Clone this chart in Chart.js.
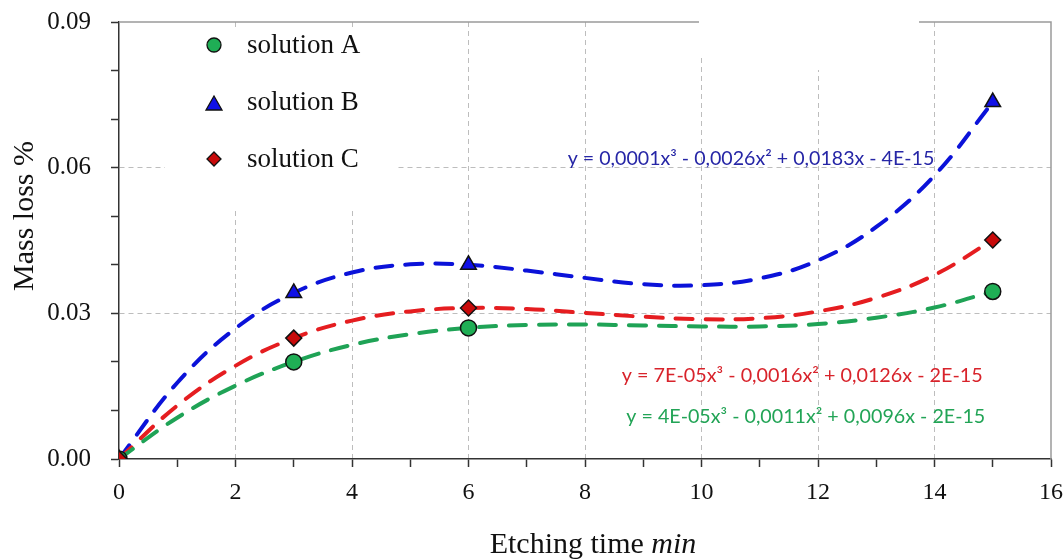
<!DOCTYPE html>
<html><head><meta charset="utf-8">
<script src="https://cdn.jsdelivr.net/npm/chart.js@4"></script>
<style>html,body{margin:0;padding:0;background:#fff;overflow:hidden}#w{width:1064px;height:559px}</style>
</head><body><div id="w"><canvas id="c" width="1064" height="559"></canvas></div>
<script>
// ---- data ----
const measuredTimes = [0, 3, 6, 15];
const solutionA = [0, 0.0200, 0.0270, 0.0345];
const solutionB = [0, 0.0342, 0.0400, 0.0735];
const solutionC = [0, 0.0249, 0.0311, 0.0451];

// dashed trend lines as seen on the picture
const trendTimes = [0, 1, 2, 3, 4, 5, 6, 7, 8, 9, 10, 11, 12, 13, 14, 15];
const trendA = [0, 0.0085, 0.0151, 0.0200, 0.0235, 0.0257, 0.0270, 0.0276, 0.0277, 0.0275, 0.0273, 0.0273, 0.0278, 0.0291, 0.0312, 0.0345];
const trendB = [0, 0.0157, 0.0269, 0.0342, 0.0384, 0.0401, 0.0400, 0.0388, 0.0373, 0.0360, 0.0358, 0.0372, 0.0409, 0.0478, 0.0584, 0.0735];
const trendC = [0, 0.0110, 0.0192, 0.0249, 0.0285, 0.0304, 0.0311, 0.0309, 0.0301, 0.0293, 0.0288, 0.0290, 0.0304, 0.0332, 0.0379, 0.0451];

const xTickLabels = [0, 2, 4, 6, 8, 10, 12, 14, 16];
const yTickLabels = [0.00, 0.03, 0.06, 0.09];
const seriesNames = ['solution A', 'solution B', 'solution C'];
const equationB = 'y = 0,0001x³ - 0,0026x² + 0,0183x - 4E-15';
const equationC = 'y = 7E-05x³ - 0,0016x² + 0,0126x - 2E-15';
const equationA = 'y = 4E-05x³ - 0,0011x² + 0,0096x - 2E-15';
const xTitle = 'Etching time ';
const xTitleUnit = 'min';
const yTitle = 'Mass loss %';

// ---- styles ----
const COL = {
  lineA: '#1fa356', lineB: '#0b12d9', lineC: '#e51d20',
  ptA: '#1fae55', ptB: '#1010e6', ptC: '#c80a0a',
  eqA: '#22a456', eqB: '#2626a6', eqC: '#d8232b'
};
const SERIF = '"Liberation Serif", "Times New Roman", serif';

const pts = (xs, ys) => xs.map((x, i) => ({x, y: ys[i]}));

const lineDs = (label, xs, ys, color, order) => ({
  type: 'scatter', label, data: pts(xs, ys), showLine: true, tension: 0.4,
  borderColor: color, borderWidth: 4, borderDash: [17, 13], borderCapStyle: 'round',
  pointRadius: 0, fill: false, order
});
const pointDs = (label, ys, style, fill, r, order) => ({
  type: 'scatter', label, data: pts(measuredTimes, ys), showLine: false,
  pointStyle: style, pointRadius: r, backgroundColor: fill, borderColor: '#111',
  pointBorderWidth: 1.5, order
});

const near = (v, list) => list.some(t => Math.abs(t - v) < 1e-9);

const decor = {
  id: 'decor',
  beforeDatasetsDraw(chart) {
    const {ctx, chartArea: a} = chart;
    ctx.save();
    // frame (top and right)
    ctx.strokeStyle = '#9a9a9a'; ctx.lineWidth = 1.5;
    ctx.beginPath();
    ctx.moveTo(a.left, a.top); ctx.lineTo(a.right, a.top); ctx.lineTo(a.right, a.bottom);
    ctx.stroke();
    // white boxes of the legend and labels that hide grid lines
    ctx.fillStyle = '#fff';
    ctx.fillRect(a.left + 46, a.top + 8, 233, 181);
    ctx.fillRect(a.left + 580, a.top - 12, 220, 47);
    ctx.fillRect(a.left + 640, a.top + 35, 160, 13);
    ctx.restore();
  },
  afterDraw(chart) {
    const {ctx, chartArea: a, scales: {x, y}} = chart;
    ctx.save();
    // legend
    const items = [
      {name: seriesNames[0], draw: (cx, cy) => { ctx.beginPath(); ctx.arc(cx, cy, 7, 0, Math.PI * 2); ctx.fillStyle = COL.ptA; ctx.fill(); ctx.stroke(); }},
      {name: seriesNames[1], draw: (cx, cy) => { ctx.beginPath(); ctx.moveTo(cx, cy - 8); ctx.lineTo(cx + 8, cy + 6); ctx.lineTo(cx - 8, cy + 6); ctx.closePath(); ctx.fillStyle = COL.ptB; ctx.fill(); ctx.stroke(); }},
      {name: seriesNames[2], draw: (cx, cy) => { ctx.beginPath(); ctx.moveTo(cx, cy - 7); ctx.lineTo(cx + 7, cy); ctx.lineTo(cx, cy + 7); ctx.lineTo(cx - 7, cy); ctx.closePath(); ctx.fillStyle = COL.ptC; ctx.fill(); ctx.stroke(); }}
    ];
    ctx.strokeStyle = '#111'; ctx.lineWidth = 1.3;
    const baseY = [a.top + 31, a.top + 88, a.top + 145];
    items.forEach((it, i) => {
      it.draw(a.left + 95, baseY[i] - 8 + (i === 1 ? 2 : 0));
      ctx.fillStyle = '#111';
      ctx.font = '27px ' + SERIF;
      ctx.textAlign = 'left'; ctx.textBaseline = 'alphabetic';
      ctx.fillText(it.name, a.left + 128, baseY[i]);
    });
    // equations
    const eqs = [
      {t: equationB, c: COL.eqB, x: 10.85, y: 0.0605, w: 367},
      {t: equationC, c: COL.eqC, x: 11.73, y: 0.0159, w: 361},
      {t: equationA, c: COL.eqA, x: 11.79, y: 0.0074, w: 359}
    ];
    eqs.forEach(e => {
      ctx.font = '18px Lato, "Open Sans", sans-serif';
      const m = ctx.measureText(e.t).width;
      const size = 18 * e.w / m;
      ctx.font = size.toFixed(2) + 'px Lato, "Open Sans", sans-serif';
      ctx.fillStyle = e.c; ctx.textAlign = 'center'; ctx.textBaseline = 'alphabetic';
      ctx.fillText(e.t, x.getPixelForValue(e.x), y.getPixelForValue(e.y));
    });
    // x title with italic unit
    ctx.fillStyle = '#111'; ctx.textBaseline = 'alphabetic'; ctx.textAlign = 'left';
    ctx.font = '30px ' + SERIF;
    const w1 = ctx.measureText(xTitle).width;
    ctx.font = 'italic 30px ' + SERIF;
    const w2 = ctx.measureText(xTitleUnit).width;
    const cx = 593, by = 553;
    ctx.font = '30px ' + SERIF;
    ctx.fillText(xTitle, cx - (w1 + w2) / 2, by);
    ctx.font = 'italic 30px ' + SERIF;
    ctx.fillText(xTitleUnit, cx - (w1 + w2) / 2 + w1, by);
    // y title
    ctx.translate(33, 216);
    ctx.rotate(-Math.PI / 2);
    ctx.font = '30px ' + SERIF; ctx.textAlign = 'center';
    ctx.fillText(yTitle, 0, 0);
    ctx.restore();
  }
};

new Chart(document.getElementById('c'), {
  type: 'scatter',
  data: {
    datasets: [
      pointDs(seriesNames[2], solutionC, 'rectRot', COL.ptC, 8, 1),
      pointDs(seriesNames[1], solutionB, 'triangle', COL.ptB, 9, 2),
      pointDs(seriesNames[0], solutionA, 'circle', COL.ptA, 8, 3),
      lineDs(seriesNames[0] + ' trend', trendTimes, trendA, COL.lineA, 4),
      lineDs(seriesNames[2] + ' trend', trendTimes, trendC, COL.lineC, 5),
      lineDs(seriesNames[1] + ' trend', trendTimes, trendB, COL.lineB, 6)
    ]
  },
  options: {
    responsive: false, animation: false, devicePixelRatio: 1,
    layout: {padding: {top: 22, right: 13, left: 0, bottom: 0}},
    plugins: {legend: {display: false}, tooltip: {enabled: false}},
    scales: {
      x: {
        type: 'linear', min: 0, max: 16,
        afterFit: s => { s.height = 100; s.paddingLeft = 0; s.paddingRight = 0; },
        ticks: {
          stepSize: 1, autoSkip: false, maxRotation: 0, padding: 11,
          color: '#111', font: {family: SERIF, size: 24},
          callback: v => near(v, xTickLabels) ? String(v) : ''
        },
        grid: {
          color: c => (c.tick && near(c.tick.value, xTickLabels) && c.tick.value > 0 && c.tick.value < 16) ? '#bdbdbd' : 'rgba(0,0,0,0)',
          lineWidth: 1, tickLength: 8, tickColor: '#333', tickWidth: 1.5, tickBorderDash: []
        },
        border: {color: '#333', width: 1.5, dash: [5, 4]}
      },
      y: {
        type: 'linear', min: 0, max: 0.09,
        afterFit: s => { s.width = 119; s.paddingTop = 0; s.paddingBottom = 0; },
        ticks: {
          stepSize: 0.01, autoSkip: false, padding: 20,
          color: '#111', font: {family: SERIF, size: 25},
          callback: v => near(v, yTickLabels) ? v.toFixed(2) : ''
        },
        grid: {
          color: c => (c.tick && near(c.tick.value, yTickLabels) && c.tick.value > 0.001 && c.tick.value < 0.089) ? '#bdbdbd' : 'rgba(0,0,0,0)',
          lineWidth: 1, tickLength: 8, tickColor: '#333', tickWidth: 1.5, tickBorderDash: []
        },
        border: {color: '#333', width: 1.5, dash: [5, 4]}
      }
    }
  },
  plugins: [decor]
});
</script>
</body></html>
